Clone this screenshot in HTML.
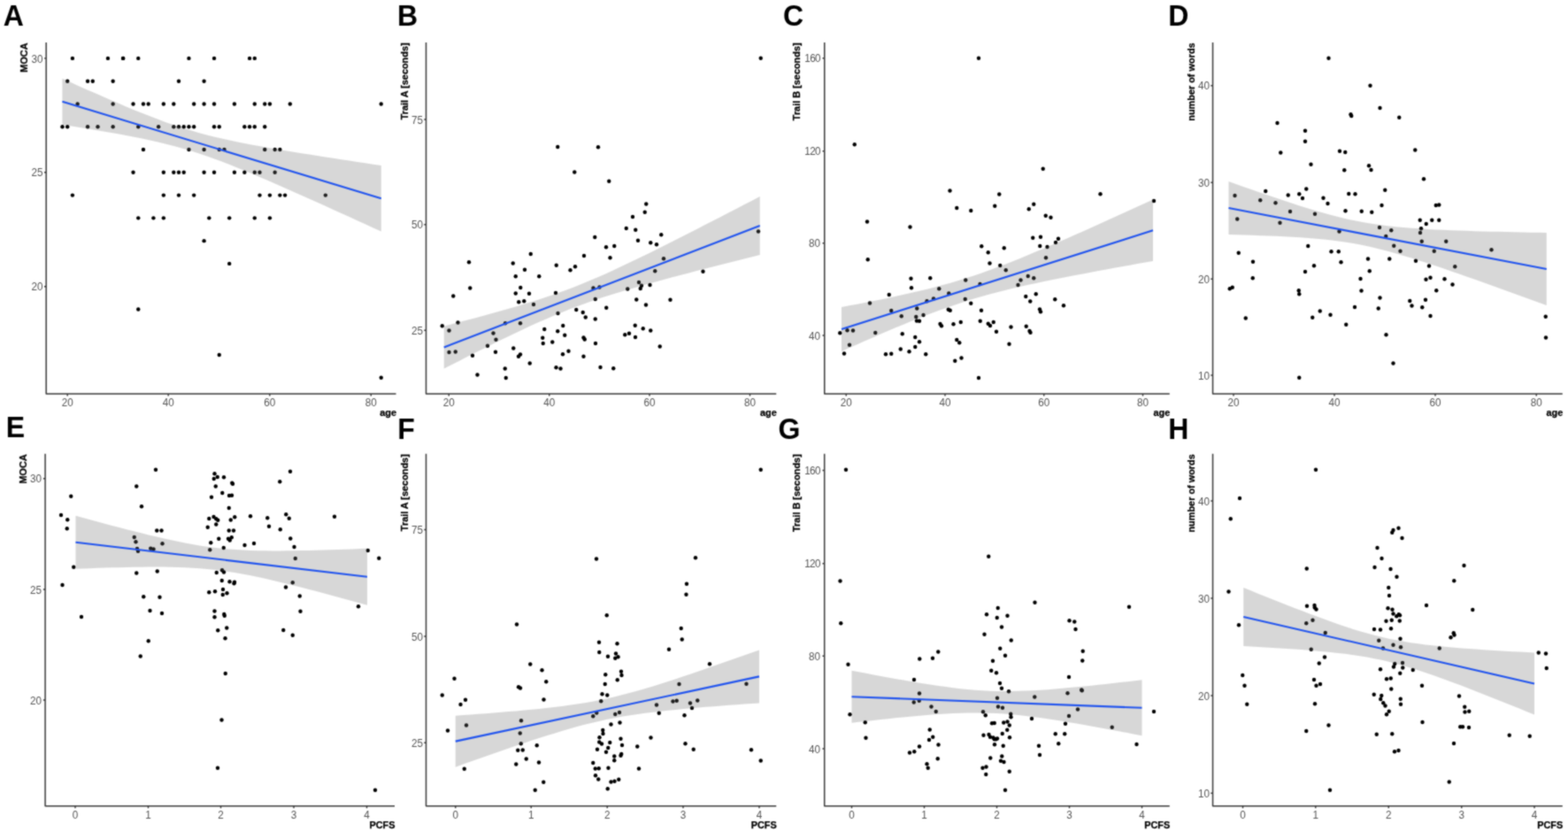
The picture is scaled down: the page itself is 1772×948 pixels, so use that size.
<!DOCTYPE html>
<html lang="en">
<head>
<meta charset="utf-8">
<title>Figure: cognitive tests vs age and PCFS</title>
<style>
html,body{margin:0;padding:0;background:#fff;}
body{width:1772px;height:948px;overflow:hidden;font-family:"Liberation Sans",Arial,Helvetica,sans-serif;}
svg{display:block;}
.pts circle{fill:#000;}
.band{fill:#6e6e6e;fill-opacity:0.275;stroke:none;}
.fit{stroke:#2053ee;stroke-width:2.1;fill:none;}
.axis{stroke:#3a3a3a;stroke-width:1.5;fill:none;stroke-linecap:square;stroke-linejoin:round;}
.tick{stroke:#3a3a3a;stroke-width:1.4;fill:none;}
.tl{font-size:11.7px;fill:#555555;}
.at{font-size:10.9px;font-weight:bold;fill:#000;stroke:#000;stroke-width:0.25px;}
.pl{font-size:32px;font-weight:bold;fill:#000;}
</style>
</head>
<body>
<svg width="1772" height="948" viewBox="0 0 1772 948" font-family="'Liberation Sans',Arial,Helvetica,sans-serif">
<defs><filter id="soft" x="0" y="0" width="1772" height="948" filterUnits="userSpaceOnUse" color-interpolation-filters="sRGB"><feConvolveMatrix order="3" kernelMatrix="0.0500 0.1000 0.0500 0.1000 0.4000 0.1000 0.0500 0.1000 0.0500" divisor="1" edgeMode="duplicate" preserveAlpha="true"/></filter></defs>
<rect width="1772" height="948" fill="#fff"/>
<g filter="url(#soft)">
<rect width="1772" height="948" fill="#fff"/>
<g class="panel" id="panel-A">
<g class="pts">
<circle cx="81.92" cy="65.9" r="2.2"/>
<circle cx="121.95" cy="65.9" r="2.2"/>
<circle cx="139.1" cy="65.9" r="2.2"/>
<circle cx="139.1" cy="65.9" r="2.2"/>
<circle cx="156.26" cy="65.9" r="2.2"/>
<circle cx="213.44" cy="65.9" r="2.2"/>
<circle cx="242.03" cy="65.9" r="2.2"/>
<circle cx="282.06" cy="65.9" r="2.2"/>
<circle cx="287.78" cy="65.9" r="2.2"/>
<circle cx="76.2" cy="91.68" r="2.2"/>
<circle cx="99.07" cy="91.68" r="2.2"/>
<circle cx="104.79" cy="91.68" r="2.2"/>
<circle cx="127.67" cy="91.68" r="2.2"/>
<circle cx="202" cy="91.68" r="2.2"/>
<circle cx="230.6" cy="91.68" r="2.2"/>
<circle cx="87.64" cy="117.46" r="2.2"/>
<circle cx="127.67" cy="117.46" r="2.2"/>
<circle cx="150.54" cy="117.46" r="2.2"/>
<circle cx="161.98" cy="117.46" r="2.2"/>
<circle cx="167.69" cy="117.46" r="2.2"/>
<circle cx="184.85" cy="117.46" r="2.2"/>
<circle cx="196.29" cy="117.46" r="2.2"/>
<circle cx="219.16" cy="117.46" r="2.2"/>
<circle cx="230.6" cy="117.46" r="2.2"/>
<circle cx="242.03" cy="117.46" r="2.2"/>
<circle cx="264.91" cy="117.46" r="2.2"/>
<circle cx="287.78" cy="117.46" r="2.2"/>
<circle cx="299.22" cy="117.46" r="2.2"/>
<circle cx="304.93" cy="117.46" r="2.2"/>
<circle cx="327.81" cy="117.46" r="2.2"/>
<circle cx="430.74" cy="117.46" r="2.2"/>
<circle cx="70.48" cy="143.24" r="2.2"/>
<circle cx="76.2" cy="143.24" r="2.2"/>
<circle cx="99.07" cy="143.24" r="2.2"/>
<circle cx="110.51" cy="143.24" r="2.2"/>
<circle cx="127.67" cy="143.24" r="2.2"/>
<circle cx="156.26" cy="143.24" r="2.2"/>
<circle cx="179.13" cy="143.24" r="2.2"/>
<circle cx="196.29" cy="143.24" r="2.2"/>
<circle cx="202" cy="143.24" r="2.2"/>
<circle cx="207.72" cy="143.24" r="2.2"/>
<circle cx="213.44" cy="143.24" r="2.2"/>
<circle cx="219.16" cy="143.24" r="2.2"/>
<circle cx="242.03" cy="143.24" r="2.2"/>
<circle cx="247.75" cy="143.24" r="2.2"/>
<circle cx="276.34" cy="143.24" r="2.2"/>
<circle cx="282.06" cy="143.24" r="2.2"/>
<circle cx="287.78" cy="143.24" r="2.2"/>
<circle cx="299.22" cy="143.24" r="2.2"/>
<circle cx="161.98" cy="169.02" r="2.2"/>
<circle cx="213.44" cy="169.02" r="2.2"/>
<circle cx="230.6" cy="169.02" r="2.2"/>
<circle cx="247.75" cy="169.02" r="2.2"/>
<circle cx="253.47" cy="169.02" r="2.2"/>
<circle cx="299.22" cy="169.02" r="2.2"/>
<circle cx="310.65" cy="169.02" r="2.2"/>
<circle cx="316.37" cy="169.02" r="2.2"/>
<circle cx="150.54" cy="194.8" r="2.2"/>
<circle cx="184.85" cy="194.8" r="2.2"/>
<circle cx="196.29" cy="194.8" r="2.2"/>
<circle cx="202" cy="194.8" r="2.2"/>
<circle cx="207.72" cy="194.8" r="2.2"/>
<circle cx="230.6" cy="194.8" r="2.2"/>
<circle cx="242.03" cy="194.8" r="2.2"/>
<circle cx="264.91" cy="194.8" r="2.2"/>
<circle cx="276.34" cy="194.8" r="2.2"/>
<circle cx="287.78" cy="194.8" r="2.2"/>
<circle cx="293.5" cy="194.8" r="2.2"/>
<circle cx="310.65" cy="194.8" r="2.2"/>
<circle cx="81.92" cy="220.58" r="2.2"/>
<circle cx="184.85" cy="220.58" r="2.2"/>
<circle cx="202" cy="220.58" r="2.2"/>
<circle cx="219.16" cy="220.58" r="2.2"/>
<circle cx="293.5" cy="220.58" r="2.2"/>
<circle cx="304.93" cy="220.58" r="2.2"/>
<circle cx="316.37" cy="220.58" r="2.2"/>
<circle cx="322.09" cy="220.58" r="2.2"/>
<circle cx="367.84" cy="220.58" r="2.2"/>
<circle cx="156.26" cy="246.36" r="2.2"/>
<circle cx="173.41" cy="246.36" r="2.2"/>
<circle cx="184.85" cy="246.36" r="2.2"/>
<circle cx="236.31" cy="246.36" r="2.2"/>
<circle cx="259.19" cy="246.36" r="2.2"/>
<circle cx="287.78" cy="246.36" r="2.2"/>
<circle cx="304.93" cy="246.36" r="2.2"/>
<circle cx="230.6" cy="272.14" r="2.2"/>
<circle cx="259.19" cy="297.92" r="2.2"/>
<circle cx="156.26" cy="349.48" r="2.2"/>
<circle cx="247.75" cy="401.04" r="2.2"/>
<circle cx="430.74" cy="426.82" r="2.2"/>
</g>
<path class="band" d="M70.4 88.8 L79.41 92.85 L88.42 96.88 L97.43 100.88 L106.44 104.86 L115.45 108.81 L124.46 112.72 L133.47 116.58 L142.48 120.4 L151.49 124.14 L160.5 127.8 L169.51 131.37 L178.52 134.82 L187.53 138.14 L196.54 141.3 L205.55 144.29 L214.56 147.1 L223.57 149.72 L232.58 152.15 L241.59 154.42 L250.6 156.54 L259.61 158.53 L268.62 160.41 L277.63 162.2 L286.64 163.91 L295.65 165.55 L304.66 167.15 L313.67 168.7 L322.68 170.22 L331.69 171.71 L340.7 173.17 L349.71 174.61 L358.72 176.04 L367.73 177.44 L376.74 178.84 L385.75 180.22 L394.76 181.59 L403.77 182.95 L412.78 184.31 L421.79 185.66 L430.8 187 L430.8 261.6 L421.79 257.47 L412.78 253.34 L403.77 249.22 L394.76 245.11 L385.75 241 L376.74 236.91 L367.73 232.83 L358.72 228.76 L349.71 224.71 L340.7 220.68 L331.69 216.66 L322.68 212.68 L313.67 208.72 L304.66 204.8 L295.65 200.92 L286.64 197.09 L277.63 193.33 L268.62 189.64 L259.61 186.05 L250.6 182.56 L241.59 179.2 L232.58 176 L223.57 172.96 L214.56 170.1 L205.55 167.43 L196.54 164.95 L187.53 162.63 L178.52 160.48 L169.51 158.45 L160.5 156.55 L151.49 154.74 L142.48 153 L133.47 151.34 L124.46 149.73 L115.45 148.17 L106.44 146.64 L97.43 145.14 L88.42 143.67 L79.41 142.23 L70.4 140.8Z"/>
<line class="fit" x1="70.4" y1="114.8" x2="430.8" y2="224.3"/>
<path class="axis" d="M52.2 48.65 V444.9 H446.75"/>
<path class="tick" d="M50 65.9h2.2M50 194.7h2.2M50 323.7h2.2M76.2 444.9v2.5M190.2 444.9v2.5M304.8 444.9v2.5M419.3 444.9v2.5"/>
<text class="tl" text-anchor="end" transform="translate(48.6 70.6) scale(1 1.04)">30</text>
<text class="tl" text-anchor="end" transform="translate(48.6 199.4) scale(1 1.04)">25</text>
<text class="tl" text-anchor="end" transform="translate(48.6 328.4) scale(1 1.04)">20</text>
<text class="tl" text-anchor="middle" transform="translate(76.2 459) scale(1 1.04)">20</text>
<text class="tl" text-anchor="middle" transform="translate(190.2 459) scale(1 1.04)">40</text>
<text class="tl" text-anchor="middle" transform="translate(304.8 459) scale(1 1.04)">60</text>
<text class="tl" text-anchor="middle" transform="translate(419.3 459) scale(1 1.04)">80</text>
<text class="at" text-anchor="end" transform="translate(448 470.2) scale(1 1)">age</text>
<text class="at" text-anchor="end" transform="translate(31.4 48.4) rotate(-90) scale(1 1)">MOCA</text>
<text class="pl" transform="translate(3.7 29) scale(1 1.04)">A</text>
</g>
<g class="panel" id="panel-B">
<g class="pts">
<circle cx="630.25" cy="166" r="2.2"/>
<circle cx="649.25" cy="194.5" r="2.2"/>
<circle cx="676" cy="166.25" r="2.2"/>
<circle cx="688.25" cy="204.75" r="2.2"/>
<circle cx="730.25" cy="230.5" r="2.2"/>
<circle cx="859.75" cy="65.75" r="2.2"/>
<circle cx="499.75" cy="368.25" r="2.2"/>
<circle cx="507.5" cy="373.5" r="2.2"/>
<circle cx="507.5" cy="398" r="2.2"/>
<circle cx="512.25" cy="334.5" r="2.2"/>
<circle cx="514.75" cy="397.5" r="2.2"/>
<circle cx="517.5" cy="364.5" r="2.2"/>
<circle cx="530" cy="296.25" r="2.2"/>
<circle cx="531.25" cy="325.5" r="2.2"/>
<circle cx="534" cy="401.75" r="2.2"/>
<circle cx="539.5" cy="423.5" r="2.2"/>
<circle cx="551" cy="390.75" r="2.2"/>
<circle cx="557.5" cy="376.5" r="2.2"/>
<circle cx="560" cy="397.75" r="2.2"/>
<circle cx="560.5" cy="383.75" r="2.2"/>
<circle cx="570.75" cy="416.5" r="2.2"/>
<circle cx="571" cy="365.25" r="2.2"/>
<circle cx="571.75" cy="427" r="2.2"/>
<circle cx="579.75" cy="297.5" r="2.2"/>
<circle cx="580.25" cy="393.5" r="2.2"/>
<circle cx="582.75" cy="312.25" r="2.2"/>
<circle cx="582.75" cy="331.5" r="2.2"/>
<circle cx="586" cy="402.75" r="2.2"/>
<circle cx="586.25" cy="341.25" r="2.2"/>
<circle cx="588" cy="400.5" r="2.2"/>
<circle cx="588.25" cy="325" r="2.2"/>
<circle cx="588" cy="365.25" r="2.2"/>
<circle cx="592.25" cy="340.25" r="2.2"/>
<circle cx="593" cy="304.75" r="2.2"/>
<circle cx="598" cy="331.75" r="2.2"/>
<circle cx="598.75" cy="410.5" r="2.2"/>
<circle cx="599.75" cy="287" r="2.2"/>
<circle cx="603" cy="344" r="2.2"/>
<circle cx="609.25" cy="312.25" r="2.2"/>
<circle cx="613.25" cy="381.75" r="2.2"/>
<circle cx="613.75" cy="388" r="2.2"/>
<circle cx="615.25" cy="372" r="2.2"/>
<circle cx="624.25" cy="386.5" r="2.2"/>
<circle cx="628" cy="331" r="2.2"/>
<circle cx="628.5" cy="415.25" r="2.2"/>
<circle cx="628.75" cy="299.75" r="2.2"/>
<circle cx="630.25" cy="374.25" r="2.2"/>
<circle cx="630.5" cy="354" r="2.2"/>
<circle cx="633.5" cy="416.5" r="2.2"/>
<circle cx="636" cy="400.25" r="2.2"/>
<circle cx="636.25" cy="368" r="2.2"/>
<circle cx="638.25" cy="378.75" r="2.2"/>
<circle cx="642.5" cy="396.75" r="2.2"/>
<circle cx="644.5" cy="305.25" r="2.2"/>
<circle cx="650" cy="301.25" r="2.2"/>
<circle cx="651.25" cy="350" r="2.2"/>
<circle cx="658.75" cy="353" r="2.2"/>
<circle cx="659.5" cy="402.75" r="2.2"/>
<circle cx="659.5" cy="381.5" r="2.2"/>
<circle cx="660" cy="289" r="2.2"/>
<circle cx="660.75" cy="383.5" r="2.2"/>
<circle cx="661.75" cy="358.5" r="2.2"/>
<circle cx="670.5" cy="325.5" r="2.2"/>
<circle cx="672.25" cy="268" r="2.2"/>
<circle cx="672.75" cy="338" r="2.2"/>
<circle cx="672.75" cy="360.5" r="2.2"/>
<circle cx="673" cy="388" r="2.2"/>
<circle cx="677.5" cy="324.5" r="2.2"/>
<circle cx="678.5" cy="415" r="2.2"/>
<circle cx="685" cy="279.25" r="2.2"/>
<circle cx="685.25" cy="347.75" r="2.2"/>
<circle cx="689.5" cy="291.25" r="2.2"/>
<circle cx="693.25" cy="416.25" r="2.2"/>
<circle cx="694.25" cy="278" r="2.2"/>
<circle cx="706.25" cy="378.25" r="2.2"/>
<circle cx="707.75" cy="258" r="2.2"/>
<circle cx="709.25" cy="326.5" r="2.2"/>
<circle cx="711" cy="376.75" r="2.2"/>
<circle cx="715" cy="245" r="2.2"/>
<circle cx="717.75" cy="367.75" r="2.2"/>
<circle cx="718" cy="381" r="2.2"/>
<circle cx="718.25" cy="259.75" r="2.2"/>
<circle cx="719.25" cy="338.5" r="2.2"/>
<circle cx="721" cy="271.75" r="2.2"/>
<circle cx="722" cy="319" r="2.2"/>
<circle cx="723.75" cy="326" r="2.2"/>
<circle cx="725" cy="322.75" r="2.2"/>
<circle cx="726.75" cy="371.25" r="2.2"/>
<circle cx="728.75" cy="239.75" r="2.2"/>
<circle cx="730" cy="344.5" r="2.2"/>
<circle cx="734.5" cy="322" r="2.2"/>
<circle cx="735.25" cy="274.25" r="2.2"/>
<circle cx="735.25" cy="373.5" r="2.2"/>
<circle cx="740.25" cy="306.25" r="2.2"/>
<circle cx="742" cy="276.25" r="2.2"/>
<circle cx="745.75" cy="391.5" r="2.2"/>
<circle cx="747.25" cy="265.25" r="2.2"/>
<circle cx="750" cy="292.25" r="2.2"/>
<circle cx="757.5" cy="338.75" r="2.2"/>
<circle cx="794.5" cy="306.75" r="2.2"/>
<circle cx="857" cy="261.5" r="2.2"/>
</g>
<path class="band" d="M501.75 368.5 L510.68 366.19 L519.6 363.86 L528.52 361.51 L537.45 359.13 L546.38 356.73 L555.3 354.28 L564.23 351.8 L573.15 349.27 L582.08 346.67 L591 344.01 L599.92 341.27 L608.85 338.44 L617.77 335.5 L626.7 332.43 L635.62 329.23 L644.55 325.9 L653.48 322.42 L662.4 318.79 L671.33 315.03 L680.25 311.14 L689.17 307.14 L698.1 303.04 L707.02 298.86 L715.95 294.6 L724.88 290.28 L733.8 285.9 L742.73 281.49 L751.65 277.03 L760.58 272.54 L769.5 268.03 L778.42 263.49 L787.35 258.93 L796.27 254.36 L805.2 249.77 L814.12 245.17 L823.05 240.55 L831.98 235.93 L840.9 231.29 L849.83 226.65 L858.75 222 L858.75 288 L849.83 290.23 L840.9 292.46 L831.98 294.7 L823.05 296.95 L814.12 299.21 L805.2 301.48 L796.27 303.77 L787.35 306.07 L778.42 308.38 L769.5 310.72 L760.58 313.08 L751.65 315.47 L742.73 317.89 L733.8 320.35 L724.88 322.85 L715.95 325.4 L707.02 328.02 L698.1 330.71 L689.17 333.48 L680.25 336.36 L671.33 339.35 L662.4 342.46 L653.48 345.71 L644.55 349.1 L635.62 352.64 L626.7 356.32 L617.77 360.13 L608.85 364.06 L599.92 368.1 L591 372.24 L582.08 376.45 L573.15 380.73 L564.23 385.08 L555.3 389.47 L546.38 393.9 L537.45 398.37 L528.52 402.87 L519.6 407.39 L510.68 411.94 L501.75 416.5Z"/>
<line class="fit" x1="501.75" y1="392.5" x2="858.75" y2="255"/>
<path class="axis" d="M481.5 48.65 V444.9 H876.5"/>
<path class="tick" d="M479.3 135h2.2M479.3 253.75h2.2M479.3 373.25h2.2M507.25 444.9v2.5M620.75 444.9v2.5M734 444.9v2.5M847.5 444.9v2.5"/>
<text class="tl" text-anchor="end" transform="translate(477.9 139.7) scale(1 1.04)">75</text>
<text class="tl" text-anchor="end" transform="translate(477.9 258.45) scale(1 1.04)">50</text>
<text class="tl" text-anchor="end" transform="translate(477.9 377.95) scale(1 1.04)">25</text>
<text class="tl" text-anchor="middle" transform="translate(507.25 459) scale(1 1.04)">20</text>
<text class="tl" text-anchor="middle" transform="translate(620.75 459) scale(1 1.04)">40</text>
<text class="tl" text-anchor="middle" transform="translate(734 459) scale(1 1.04)">60</text>
<text class="tl" text-anchor="middle" transform="translate(847.5 459) scale(1 1.04)">80</text>
<text class="at" text-anchor="end" transform="translate(877.75 470.2) scale(1 1)">age</text>
<text class="at" text-anchor="end" transform="translate(460.8 48.4) rotate(-90) scale(1 1)">Trail A [seconds]</text>
<text class="pl" transform="translate(449.05 28.5) scale(1 1.04)">B</text>
</g>
<g class="panel" id="panel-C">
<g class="pts">
<circle cx="965.75" cy="163.25" r="2.2"/>
<circle cx="1106" cy="65.75" r="2.2"/>
<circle cx="1073.5" cy="215.5" r="2.2"/>
<circle cx="1081.25" cy="235" r="2.2"/>
<circle cx="1097.25" cy="238" r="2.2"/>
<circle cx="1124.25" cy="232.75" r="2.2"/>
<circle cx="1129.25" cy="219.5" r="2.2"/>
<circle cx="1162.75" cy="236.25" r="2.2"/>
<circle cx="1168.25" cy="230.75" r="2.2"/>
<circle cx="1178.75" cy="190.75" r="2.2"/>
<circle cx="1243.5" cy="219.25" r="2.2"/>
<circle cx="1304" cy="227" r="2.2"/>
<circle cx="949.25" cy="376.25" r="2.2"/>
<circle cx="954" cy="399.5" r="2.2"/>
<circle cx="957.5" cy="373.25" r="2.2"/>
<circle cx="960" cy="389.75" r="2.2"/>
<circle cx="964" cy="373.5" r="2.2"/>
<circle cx="980" cy="250.5" r="2.2"/>
<circle cx="980.75" cy="293.25" r="2.2"/>
<circle cx="983" cy="342.5" r="2.2"/>
<circle cx="989.25" cy="376" r="2.2"/>
<circle cx="1001" cy="400.25" r="2.2"/>
<circle cx="1004.75" cy="333" r="2.2"/>
<circle cx="1007.25" cy="399.75" r="2.2"/>
<circle cx="1007.25" cy="351" r="2.2"/>
<circle cx="1017.75" cy="394.5" r="2.2"/>
<circle cx="1018.75" cy="357.25" r="2.2"/>
<circle cx="1019.75" cy="377.25" r="2.2"/>
<circle cx="1027.5" cy="397.25" r="2.2"/>
<circle cx="1028.5" cy="256.5" r="2.2"/>
<circle cx="1029.5" cy="314.75" r="2.2"/>
<circle cx="1030" cy="325.25" r="2.2"/>
<circle cx="1034.25" cy="381" r="2.2"/>
<circle cx="1034.25" cy="392" r="2.2"/>
<circle cx="1035.25" cy="358" r="2.2"/>
<circle cx="1036" cy="362.5" r="2.2"/>
<circle cx="1036.25" cy="348.5" r="2.2"/>
<circle cx="1039" cy="362.75" r="2.2"/>
<circle cx="1039" cy="386.25" r="2.2"/>
<circle cx="1043.5" cy="356" r="2.2"/>
<circle cx="1046.25" cy="400.25" r="2.2"/>
<circle cx="1047.5" cy="340.25" r="2.2"/>
<circle cx="1051.25" cy="314.25" r="2.2"/>
<circle cx="1055" cy="337.5" r="2.2"/>
<circle cx="1061.25" cy="326.25" r="2.2"/>
<circle cx="1062.5" cy="366" r="2.2"/>
<circle cx="1064" cy="368.25" r="2.2"/>
<circle cx="1071.75" cy="349.75" r="2.2"/>
<circle cx="1072.25" cy="331.5" r="2.2"/>
<circle cx="1073.75" cy="350.75" r="2.2"/>
<circle cx="1077.5" cy="366.25" r="2.2"/>
<circle cx="1079.25" cy="407.75" r="2.2"/>
<circle cx="1081.25" cy="384" r="2.2"/>
<circle cx="1084.25" cy="387.25" r="2.2"/>
<circle cx="1085.75" cy="364" r="2.2"/>
<circle cx="1086.5" cy="404.5" r="2.2"/>
<circle cx="1090.75" cy="338" r="2.2"/>
<circle cx="1091.25" cy="316.5" r="2.2"/>
<circle cx="1097.25" cy="342.75" r="2.2"/>
<circle cx="1106" cy="427" r="2.2"/>
<circle cx="1107.5" cy="321" r="2.2"/>
<circle cx="1107.75" cy="362.75" r="2.2"/>
<circle cx="1109" cy="350.75" r="2.2"/>
<circle cx="1109.25" cy="278.25" r="2.2"/>
<circle cx="1116.75" cy="285.25" r="2.2"/>
<circle cx="1116.75" cy="365.75" r="2.2"/>
<circle cx="1118.5" cy="297.5" r="2.2"/>
<circle cx="1119" cy="368" r="2.2"/>
<circle cx="1122.75" cy="364" r="2.2"/>
<circle cx="1126" cy="374.75" r="2.2"/>
<circle cx="1130.25" cy="300" r="2.2"/>
<circle cx="1134.75" cy="280.25" r="2.2"/>
<circle cx="1136.75" cy="305.25" r="2.2"/>
<circle cx="1140.5" cy="388.75" r="2.2"/>
<circle cx="1142.5" cy="369.5" r="2.2"/>
<circle cx="1150.5" cy="322" r="2.2"/>
<circle cx="1153.5" cy="316.5" r="2.2"/>
<circle cx="1159.25" cy="335" r="2.2"/>
<circle cx="1159.75" cy="368.75" r="2.2"/>
<circle cx="1161.75" cy="312" r="2.2"/>
<circle cx="1163.5" cy="374" r="2.2"/>
<circle cx="1164.25" cy="340.5" r="2.2"/>
<circle cx="1164.5" cy="375.75" r="2.2"/>
<circle cx="1167.25" cy="268.75" r="2.2"/>
<circle cx="1168.25" cy="314.25" r="2.2"/>
<circle cx="1170.75" cy="332.25" r="2.2"/>
<circle cx="1175" cy="349.5" r="2.2"/>
<circle cx="1175.25" cy="278" r="2.2"/>
<circle cx="1176" cy="352.25" r="2.2"/>
<circle cx="1176" cy="267.75" r="2.2"/>
<circle cx="1181.75" cy="243.75" r="2.2"/>
<circle cx="1182" cy="291.25" r="2.2"/>
<circle cx="1183.5" cy="279" r="2.2"/>
<circle cx="1187.5" cy="245.75" r="2.2"/>
<circle cx="1192.25" cy="338.25" r="2.2"/>
<circle cx="1193" cy="274" r="2.2"/>
<circle cx="1196" cy="269.75" r="2.2"/>
<circle cx="1202" cy="345.25" r="2.2"/>
</g>
<path class="band" d="M951 347 L959.8 345.34 L968.6 343.66 L977.4 341.95 L986.2 340.21 L995 338.44 L1003.8 336.63 L1012.6 334.77 L1021.4 332.85 L1030.2 330.87 L1039 328.82 L1047.8 326.68 L1056.6 324.44 L1065.4 322.1 L1074.2 319.63 L1083 317.03 L1091.8 314.3 L1100.6 311.43 L1109.4 308.42 L1118.2 305.29 L1127 302.03 L1135.8 298.67 L1144.6 295.21 L1153.4 291.67 L1162.2 288.05 L1171 284.37 L1179.8 280.64 L1188.6 276.86 L1197.4 273.04 L1206.2 269.19 L1215 265.3 L1223.8 261.4 L1232.6 257.47 L1241.4 253.52 L1250.2 249.55 L1259 245.57 L1267.8 241.58 L1276.6 237.57 L1285.4 233.56 L1294.2 229.53 L1303 225.5 L1303 295 L1294.2 296.56 L1285.4 298.12 L1276.6 299.69 L1267.8 301.27 L1259 302.87 L1250.2 304.47 L1241.4 306.1 L1232.6 307.73 L1223.8 309.39 L1215 311.07 L1206.2 312.78 L1197.4 314.51 L1188.6 316.28 L1179.8 318.09 L1171 319.94 L1162.2 321.85 L1153.4 323.82 L1144.6 325.86 L1135.8 327.99 L1127 330.22 L1118.2 332.55 L1109.4 335 L1100.6 337.58 L1091.8 340.3 L1083 343.15 L1074.2 346.15 L1065.4 349.27 L1056.6 352.51 L1047.8 355.86 L1039 359.31 L1030.2 362.84 L1021.4 366.45 L1012.6 370.12 L1003.8 373.85 L995 377.62 L986.2 381.44 L977.4 385.29 L968.6 389.17 L959.8 393.07 L951 397Z"/>
<line class="fit" x1="951" y1="372" x2="1303" y2="260.25"/>
<path class="axis" d="M931.75 48.65 V444.9 H1321"/>
<path class="tick" d="M929.55 65.75h2.2M929.55 170.75h2.2M929.55 274.75h2.2M929.55 379h2.2M956.25 444.9v2.5M1068 444.9v2.5M1179.75 444.9v2.5M1291.5 444.9v2.5"/>
<text class="tl" text-anchor="end" letter-spacing="-0.6" transform="translate(926.95 70.45) scale(1 1.04)">160</text>
<text class="tl" text-anchor="end" letter-spacing="-0.6" transform="translate(926.95 175.45) scale(1 1.04)">120</text>
<text class="tl" text-anchor="end" transform="translate(926.95 279.45) scale(1 1.04)">80</text>
<text class="tl" text-anchor="end" transform="translate(926.95 383.7) scale(1 1.04)">40</text>
<text class="tl" text-anchor="middle" transform="translate(956.25 459) scale(1 1.04)">20</text>
<text class="tl" text-anchor="middle" transform="translate(1068 459) scale(1 1.04)">40</text>
<text class="tl" text-anchor="middle" transform="translate(1179.75 459) scale(1 1.04)">60</text>
<text class="tl" text-anchor="middle" transform="translate(1291.5 459) scale(1 1.04)">80</text>
<text class="at" text-anchor="end" transform="translate(1322.25 470.2) scale(1 1)">age</text>
<text class="at" text-anchor="end" transform="translate(903.9 48.4) rotate(-90) scale(1 1)">Trail B [seconds]</text>
<text class="pl" transform="translate(885.05 29) scale(1 1.04)">C</text>
</g>
<g class="panel" id="panel-D">
<g class="pts">
<circle cx="1395.5" cy="221" r="2.2"/>
<circle cx="1424.25" cy="226.25" r="2.2"/>
<circle cx="1430.25" cy="216" r="2.2"/>
<circle cx="1441.5" cy="229.25" r="2.2"/>
<circle cx="1443.5" cy="139" r="2.2"/>
<circle cx="1447.25" cy="172.5" r="2.2"/>
<circle cx="1455.75" cy="220.5" r="2.2"/>
<circle cx="1458" cy="239" r="2.2"/>
<circle cx="1468.25" cy="219.25" r="2.2"/>
<circle cx="1472" cy="224" r="2.2"/>
<circle cx="1475" cy="147.75" r="2.2"/>
<circle cx="1475" cy="159.75" r="2.2"/>
<circle cx="1476.25" cy="213.5" r="2.2"/>
<circle cx="1481.5" cy="185.75" r="2.2"/>
<circle cx="1495.5" cy="223.75" r="2.2"/>
<circle cx="1500.5" cy="230" r="2.2"/>
<circle cx="1501.5" cy="65.75" r="2.2"/>
<circle cx="1514" cy="170.75" r="2.2"/>
<circle cx="1519.25" cy="192.25" r="2.2"/>
<circle cx="1520.25" cy="172" r="2.2"/>
<circle cx="1524.25" cy="219" r="2.2"/>
<circle cx="1526.5" cy="129.25" r="2.2"/>
<circle cx="1527.25" cy="131" r="2.2"/>
<circle cx="1531.5" cy="219.25" r="2.2"/>
<circle cx="1547" cy="187.25" r="2.2"/>
<circle cx="1548.5" cy="96.75" r="2.2"/>
<circle cx="1549.5" cy="192" r="2.2"/>
<circle cx="1559.5" cy="122" r="2.2"/>
<circle cx="1561.5" cy="232" r="2.2"/>
<circle cx="1565.25" cy="214.75" r="2.2"/>
<circle cx="1581.25" cy="132.75" r="2.2"/>
<circle cx="1599.25" cy="169.5" r="2.2"/>
<circle cx="1609" cy="202.25" r="2.2"/>
<circle cx="1622.75" cy="232" r="2.2"/>
<circle cx="1626.25" cy="231.5" r="2.2"/>
<circle cx="1389.75" cy="326.25" r="2.2"/>
<circle cx="1392.75" cy="324.75" r="2.2"/>
<circle cx="1398.25" cy="247.5" r="2.2"/>
<circle cx="1399.75" cy="285.75" r="2.2"/>
<circle cx="1407.75" cy="359.5" r="2.2"/>
<circle cx="1416" cy="295.75" r="2.2"/>
<circle cx="1415.75" cy="314.25" r="2.2"/>
<circle cx="1446.5" cy="251.75" r="2.2"/>
<circle cx="1467.75" cy="328.25" r="2.2"/>
<circle cx="1468.25" cy="332.25" r="2.2"/>
<circle cx="1468.25" cy="426.75" r="2.2"/>
<circle cx="1475" cy="307" r="2.2"/>
<circle cx="1478.25" cy="278" r="2.2"/>
<circle cx="1483.25" cy="358.75" r="2.2"/>
<circle cx="1485" cy="300.25" r="2.2"/>
<circle cx="1486" cy="241.75" r="2.2"/>
<circle cx="1491.75" cy="351.5" r="2.2"/>
<circle cx="1503.5" cy="355.75" r="2.2"/>
<circle cx="1504.5" cy="284.25" r="2.2"/>
<circle cx="1512.75" cy="284.25" r="2.2"/>
<circle cx="1513.5" cy="261.5" r="2.2"/>
<circle cx="1515.5" cy="296.25" r="2.2"/>
<circle cx="1520.5" cy="238.25" r="2.2"/>
<circle cx="1521.25" cy="366.75" r="2.2"/>
<circle cx="1531" cy="347" r="2.2"/>
<circle cx="1537.5" cy="315" r="2.2"/>
<circle cx="1538.5" cy="328.5" r="2.2"/>
<circle cx="1538.75" cy="238.75" r="2.2"/>
<circle cx="1546" cy="292.5" r="2.2"/>
<circle cx="1547.75" cy="306.25" r="2.2"/>
<circle cx="1550.25" cy="239.75" r="2.2"/>
<circle cx="1557.75" cy="348.5" r="2.2"/>
<circle cx="1559" cy="257" r="2.2"/>
<circle cx="1559.5" cy="336.5" r="2.2"/>
<circle cx="1566.25" cy="267" r="2.2"/>
<circle cx="1566.5" cy="378.25" r="2.2"/>
<circle cx="1570.25" cy="292.5" r="2.2"/>
<circle cx="1572.25" cy="260.25" r="2.2"/>
<circle cx="1574.5" cy="410.5" r="2.2"/>
<circle cx="1575.25" cy="277.75" r="2.2"/>
<circle cx="1582.5" cy="283.75" r="2.2"/>
<circle cx="1593.25" cy="340" r="2.2"/>
<circle cx="1595.5" cy="345.5" r="2.2"/>
<circle cx="1600" cy="294.75" r="2.2"/>
<circle cx="1604.75" cy="248.75" r="2.2"/>
<circle cx="1605" cy="263" r="2.2"/>
<circle cx="1606" cy="258.25" r="2.2"/>
<circle cx="1606.75" cy="272.75" r="2.2"/>
<circle cx="1607.25" cy="347.25" r="2.2"/>
<circle cx="1611" cy="338.75" r="2.2"/>
<circle cx="1611.75" cy="253" r="2.2"/>
<circle cx="1611.5" cy="315.75" r="2.2"/>
<circle cx="1615" cy="300.5" r="2.2"/>
<circle cx="1616.5" cy="313.75" r="2.2"/>
<circle cx="1616.5" cy="357" r="2.2"/>
<circle cx="1618.25" cy="248.75" r="2.2"/>
<circle cx="1620.75" cy="283.75" r="2.2"/>
<circle cx="1623.25" cy="328.25" r="2.2"/>
<circle cx="1626.25" cy="248.75" r="2.2"/>
<circle cx="1632.5" cy="315.25" r="2.2"/>
<circle cx="1634.25" cy="272.75" r="2.2"/>
<circle cx="1641.5" cy="321.5" r="2.2"/>
<circle cx="1644.25" cy="301.25" r="2.2"/>
<circle cx="1685.5" cy="282.25" r="2.2"/>
<circle cx="1746.75" cy="357.75" r="2.2"/>
<circle cx="1747" cy="381.5" r="2.2"/>
</g>
<path class="band" d="M1388.5 205 L1397.48 208.2 L1406.46 211.38 L1415.44 214.54 L1424.42 217.67 L1433.41 220.77 L1442.39 223.83 L1451.37 226.84 L1460.35 229.8 L1469.33 232.69 L1478.31 235.5 L1487.29 238.22 L1496.28 240.81 L1505.26 243.27 L1514.24 245.56 L1523.22 247.67 L1532.2 249.58 L1541.18 251.29 L1550.16 252.79 L1559.14 254.09 L1568.12 255.21 L1577.11 256.18 L1586.09 257.01 L1595.07 257.73 L1604.05 258.35 L1613.03 258.9 L1622.01 259.38 L1630.99 259.81 L1639.97 260.19 L1648.96 260.53 L1657.94 260.85 L1666.92 261.13 L1675.9 261.4 L1684.88 261.64 L1693.86 261.87 L1702.84 262.09 L1711.83 262.29 L1720.81 262.48 L1729.79 262.66 L1738.77 262.83 L1747.75 263 L1747.75 345 L1738.77 341.72 L1729.79 338.44 L1720.81 335.17 L1711.83 331.91 L1702.84 328.66 L1693.86 325.43 L1684.88 322.21 L1675.9 319 L1666.92 315.82 L1657.94 312.65 L1648.96 309.52 L1639.97 306.41 L1630.99 303.34 L1622.01 300.32 L1613.03 297.35 L1604.05 294.45 L1595.07 291.62 L1586.09 288.89 L1577.11 286.27 L1568.12 283.79 L1559.14 281.46 L1550.16 279.31 L1541.18 277.36 L1532.2 275.62 L1523.22 274.08 L1514.24 272.74 L1505.26 271.58 L1496.28 270.59 L1487.29 269.73 L1478.31 269 L1469.33 268.36 L1460.35 267.8 L1451.37 267.31 L1442.39 266.87 L1433.41 266.48 L1424.42 266.13 L1415.44 265.81 L1406.46 265.52 L1397.48 265.25 L1388.5 265Z"/>
<line class="fit" x1="1388.5" y1="235" x2="1747.75" y2="304"/>
<path class="axis" d="M1370.55 48.65 V444.9 H1765"/>
<path class="tick" d="M1368.35 96.75h2.2M1368.35 206.25h2.2M1368.35 315.25h2.2M1368.35 424h2.2M1394 444.9v2.5M1508 444.9v2.5M1622 444.9v2.5M1736.25 444.9v2.5"/>
<text class="tl" text-anchor="end" transform="translate(1366.95 101.45) scale(1 1.04)">40</text>
<text class="tl" text-anchor="end" transform="translate(1366.95 210.95) scale(1 1.04)">30</text>
<text class="tl" text-anchor="end" transform="translate(1366.95 319.95) scale(1 1.04)">20</text>
<text class="tl" text-anchor="end" transform="translate(1366.95 428.7) scale(1 1.04)">10</text>
<text class="tl" text-anchor="middle" transform="translate(1394 459) scale(1 1.04)">20</text>
<text class="tl" text-anchor="middle" transform="translate(1508 459) scale(1 1.04)">40</text>
<text class="tl" text-anchor="middle" transform="translate(1622 459) scale(1 1.04)">60</text>
<text class="tl" text-anchor="middle" transform="translate(1736.25 459) scale(1 1.04)">80</text>
<text class="at" text-anchor="end" transform="translate(1766.25 470.2) scale(1 1)">age</text>
<text class="at" text-anchor="end" transform="translate(1349.8 48.4) rotate(-90) scale(1 1)">number of words</text>
<text class="pl" transform="translate(1320.15 29) scale(1 1.04)">D</text>
</g>
<g class="panel" id="panel-E">
<g class="pts">
<circle cx="69" cy="582" r="2.2"/>
<circle cx="70.5" cy="661" r="2.2"/>
<circle cx="75.75" cy="597.25" r="2.2"/>
<circle cx="76.25" cy="587.25" r="2.2"/>
<circle cx="80.25" cy="560.75" r="2.2"/>
<circle cx="83.25" cy="640.75" r="2.2"/>
<circle cx="92" cy="697" r="2.2"/>
<circle cx="151.75" cy="607" r="2.2"/>
<circle cx="153.5" cy="612.25" r="2.2"/>
<circle cx="154.25" cy="549.5" r="2.2"/>
<circle cx="154.25" cy="647.5" r="2.2"/>
<circle cx="155" cy="620" r="2.2"/>
<circle cx="156" cy="622.75" r="2.2"/>
<circle cx="160" cy="572.25" r="2.2"/>
<circle cx="162.25" cy="674.25" r="2.2"/>
<circle cx="169.5" cy="690" r="2.2"/>
<circle cx="170.25" cy="619.75" r="2.2"/>
<circle cx="173.5" cy="620.5" r="2.2"/>
<circle cx="176" cy="530.75" r="2.2"/>
<circle cx="177.25" cy="599.5" r="2.2"/>
<circle cx="177.75" cy="645.5" r="2.2"/>
<circle cx="180.5" cy="674.75" r="2.2"/>
<circle cx="182.5" cy="599.5" r="2.2"/>
<circle cx="183" cy="693" r="2.2"/>
<circle cx="183.5" cy="614.25" r="2.2"/>
<circle cx="234.75" cy="595.75" r="2.2"/>
<circle cx="236.25" cy="586" r="2.2"/>
<circle cx="236.25" cy="669.25" r="2.2"/>
<circle cx="237.25" cy="621.25" r="2.2"/>
<circle cx="238.25" cy="613.25" r="2.2"/>
<circle cx="239" cy="561.75" r="2.2"/>
<circle cx="241.5" cy="584" r="2.2"/>
<circle cx="241.75" cy="541" r="2.2"/>
<circle cx="242.5" cy="535.25" r="2.2"/>
<circle cx="242.5" cy="690.5" r="2.2"/>
<circle cx="242.5" cy="697.25" r="2.2"/>
<circle cx="243" cy="668.25" r="2.2"/>
<circle cx="243.75" cy="549.5" r="2.2"/>
<circle cx="244.25" cy="592.5" r="2.2"/>
<circle cx="244.25" cy="586.25" r="2.2"/>
<circle cx="244.75" cy="647" r="2.2"/>
<circle cx="245.75" cy="539" r="2.2"/>
<circle cx="246.25" cy="587.75" r="2.2"/>
<circle cx="247.25" cy="608.75" r="2.2"/>
<circle cx="250.75" cy="656" r="2.2"/>
<circle cx="251" cy="644.25" r="2.2"/>
<circle cx="251.25" cy="557" r="2.2"/>
<circle cx="251.75" cy="672" r="2.2"/>
<circle cx="252" cy="666" r="2.2"/>
<circle cx="252.75" cy="619" r="2.2"/>
<circle cx="253" cy="539.25" r="2.2"/>
<circle cx="253" cy="646.5" r="2.2"/>
<circle cx="253.25" cy="694" r="2.2"/>
<circle cx="253.75" cy="695.75" r="2.2"/>
<circle cx="256.25" cy="709.5" r="2.2"/>
<circle cx="256.5" cy="670.25" r="2.2"/>
<circle cx="258" cy="608.75" r="2.2"/>
<circle cx="258.75" cy="574" r="2.2"/>
<circle cx="258.75" cy="599.5" r="2.2"/>
<circle cx="259" cy="560" r="2.2"/>
<circle cx="259.5" cy="657.25" r="2.2"/>
<circle cx="259.75" cy="610.5" r="2.2"/>
<circle cx="260.75" cy="587.5" r="2.2"/>
<circle cx="261.75" cy="607.25" r="2.2"/>
<circle cx="262" cy="559.75" r="2.2"/>
<circle cx="262.25" cy="545.75" r="2.2"/>
<circle cx="263" cy="546.75" r="2.2"/>
<circle cx="264" cy="599.5" r="2.2"/>
<circle cx="264.5" cy="659.25" r="2.2"/>
<circle cx="265" cy="657.75" r="2.2"/>
<circle cx="265.25" cy="584.25" r="2.2"/>
<circle cx="276.5" cy="616" r="2.2"/>
<circle cx="283" cy="583.25" r="2.2"/>
<circle cx="287" cy="614" r="2.2"/>
<circle cx="302.25" cy="585.25" r="2.2"/>
<circle cx="304" cy="594.75" r="2.2"/>
<circle cx="316.25" cy="544.25" r="2.2"/>
<circle cx="316.75" cy="598.25" r="2.2"/>
<circle cx="323" cy="663.5" r="2.2"/>
<circle cx="323.25" cy="581.25" r="2.2"/>
<circle cx="326.75" cy="585.75" r="2.2"/>
<circle cx="328" cy="532.75" r="2.2"/>
<circle cx="328.25" cy="608.5" r="2.2"/>
<circle cx="330.75" cy="658.25" r="2.2"/>
<circle cx="332.5" cy="618" r="2.2"/>
<circle cx="333.75" cy="631" r="2.2"/>
<circle cx="338.75" cy="673.5" r="2.2"/>
<circle cx="339.5" cy="690.75" r="2.2"/>
<circle cx="378" cy="583.75" r="2.2"/>
<circle cx="405" cy="685.25" r="2.2"/>
<circle cx="415.75" cy="622" r="2.2"/>
<circle cx="428.25" cy="630.75" r="2.2"/>
<circle cx="158.75" cy="741.5" r="2.2"/>
<circle cx="167.75" cy="724.25" r="2.2"/>
<circle cx="246.25" cy="712.25" r="2.2"/>
<circle cx="254.5" cy="721.25" r="2.2"/>
<circle cx="254.75" cy="761" r="2.2"/>
<circle cx="250.5" cy="813.5" r="2.2"/>
<circle cx="246" cy="867.75" r="2.2"/>
<circle cx="320.25" cy="712" r="2.2"/>
<circle cx="330.75" cy="717.75" r="2.2"/>
<circle cx="424" cy="892.75" r="2.2"/>
</g>
<path class="band" d="M85.5 582.75 L93.74 585.01 L101.97 587.25 L110.21 589.48 L118.45 591.69 L126.69 593.89 L134.93 596.06 L143.16 598.2 L151.4 600.3 L159.64 602.37 L167.88 604.4 L176.11 606.37 L184.35 608.28 L192.59 610.12 L200.82 611.87 L209.06 613.51 L217.3 615.04 L225.54 616.43 L233.78 617.68 L242.01 618.77 L250.25 619.7 L258.49 620.48 L266.73 621.1 L274.96 621.58 L283.2 621.94 L291.44 622.18 L299.68 622.34 L307.91 622.41 L316.15 622.42 L324.39 622.36 L332.62 622.26 L340.86 622.12 L349.1 621.94 L357.34 621.74 L365.57 621.51 L373.81 621.25 L382.05 620.98 L390.29 620.69 L398.52 620.39 L406.76 620.08 L415 619.75 L415 683.75 L406.76 681.47 L398.52 679.21 L390.29 676.96 L382.05 674.72 L373.81 672.5 L365.57 670.29 L357.34 668.11 L349.1 665.96 L340.86 663.83 L332.62 661.74 L324.39 659.69 L316.15 657.68 L307.91 655.74 L299.68 653.86 L291.44 652.07 L283.2 650.36 L274.96 648.77 L266.73 647.3 L258.49 645.97 L250.25 644.8 L242.01 643.78 L233.78 642.92 L225.54 642.22 L217.3 641.66 L209.06 641.24 L200.82 640.93 L192.59 640.73 L184.35 640.62 L176.11 640.58 L167.88 640.6 L159.64 640.68 L151.4 640.8 L143.16 640.95 L134.93 641.14 L126.69 641.36 L118.45 641.61 L110.21 641.87 L101.97 642.15 L93.74 642.44 L85.5 642.75Z"/>
<line class="fit" x1="85.5" y1="612.75" x2="415" y2="651.75"/>
<path class="axis" d="M51.1 513.45 V910.7 H445.25"/>
<path class="tick" d="M48.9 540.75h2.2M48.9 666h2.2M48.9 791h2.2M85 910.7v2.5M167.5 910.7v2.5M249.5 910.7v2.5M332 910.7v2.5M414.5 910.7v2.5"/>
<text class="tl" text-anchor="end" transform="translate(46.9 545.45) scale(1 1.04)">30</text>
<text class="tl" text-anchor="end" transform="translate(46.9 670.7) scale(1 1.04)">25</text>
<text class="tl" text-anchor="end" transform="translate(46.9 795.7) scale(1 1.04)">20</text>
<text class="tl" text-anchor="middle" transform="translate(85 924.8) scale(1 1.04)">0</text>
<text class="tl" text-anchor="middle" transform="translate(167.5 924.8) scale(1 1.04)">1</text>
<text class="tl" text-anchor="middle" transform="translate(249.5 924.8) scale(1 1.04)">2</text>
<text class="tl" text-anchor="middle" transform="translate(332 924.8) scale(1 1.04)">3</text>
<text class="tl" text-anchor="middle" transform="translate(414.5 924.8) scale(1 1.04)">4</text>
<text class="at" text-anchor="end" transform="translate(446.5 936) scale(1 1)">PCFS</text>
<text class="at" text-anchor="end" transform="translate(30.4 513.2) rotate(-90) scale(1 1)">MOCA</text>
<text class="pl" transform="translate(6.8 494.1) scale(1 1.04)">E</text>
</g>
<g class="panel" id="panel-F">
<g class="pts">
<circle cx="584" cy="705.5" r="2.2"/>
<circle cx="674" cy="631.5" r="2.2"/>
<circle cx="685.75" cy="695.25" r="2.2"/>
<circle cx="769.75" cy="710" r="2.2"/>
<circle cx="775.5" cy="671.75" r="2.2"/>
<circle cx="776" cy="659.75" r="2.2"/>
<circle cx="786" cy="630.25" r="2.2"/>
<circle cx="859.75" cy="530.75" r="2.2"/>
<circle cx="499.75" cy="785.5" r="2.2"/>
<circle cx="506" cy="825.5" r="2.2"/>
<circle cx="513.5" cy="766.75" r="2.2"/>
<circle cx="520.5" cy="796" r="2.2"/>
<circle cx="524.75" cy="868.75" r="2.2"/>
<circle cx="526" cy="790.75" r="2.2"/>
<circle cx="527" cy="819.5" r="2.2"/>
<circle cx="583.25" cy="863.5" r="2.2"/>
<circle cx="585.25" cy="847.75" r="2.2"/>
<circle cx="586" cy="776.25" r="2.2"/>
<circle cx="588" cy="777.5" r="2.2"/>
<circle cx="587.75" cy="828.5" r="2.2"/>
<circle cx="588.75" cy="840.25" r="2.2"/>
<circle cx="589" cy="814.25" r="2.2"/>
<circle cx="590.75" cy="847.5" r="2.2"/>
<circle cx="594.75" cy="857.5" r="2.2"/>
<circle cx="599.25" cy="750.5" r="2.2"/>
<circle cx="604.75" cy="892.75" r="2.2"/>
<circle cx="606.75" cy="842.25" r="2.2"/>
<circle cx="609" cy="861.5" r="2.2"/>
<circle cx="612.5" cy="757.25" r="2.2"/>
<circle cx="614.25" cy="883.75" r="2.2"/>
<circle cx="614.5" cy="790.5" r="2.2"/>
<circle cx="617.25" cy="770.25" r="2.2"/>
<circle cx="670.25" cy="809.25" r="2.2"/>
<circle cx="670.25" cy="862" r="2.2"/>
<circle cx="672.75" cy="868.5" r="2.2"/>
<circle cx="673" cy="876.25" r="2.2"/>
<circle cx="674.25" cy="805.5" r="2.2"/>
<circle cx="675" cy="846.75" r="2.2"/>
<circle cx="676.25" cy="880.5" r="2.2"/>
<circle cx="676.75" cy="868.25" r="2.2"/>
<circle cx="677" cy="725.75" r="2.2"/>
<circle cx="677.25" cy="737" r="2.2"/>
<circle cx="677.25" cy="838.5" r="2.2"/>
<circle cx="677.5" cy="833.25" r="2.2"/>
<circle cx="679.25" cy="792.25" r="2.2"/>
<circle cx="680" cy="840.5" r="2.2"/>
<circle cx="680.5" cy="784.25" r="2.2"/>
<circle cx="681.25" cy="825" r="2.2"/>
<circle cx="681.5" cy="829" r="2.2"/>
<circle cx="683.75" cy="773" r="2.2"/>
<circle cx="684.25" cy="762.25" r="2.2"/>
<circle cx="685" cy="849.75" r="2.2"/>
<circle cx="686.25" cy="785.5" r="2.2"/>
<circle cx="686.75" cy="891.25" r="2.2"/>
<circle cx="687" cy="741.75" r="2.2"/>
<circle cx="687.25" cy="845" r="2.2"/>
<circle cx="687.5" cy="867.75" r="2.2"/>
<circle cx="689.25" cy="839" r="2.2"/>
<circle cx="690.5" cy="818.5" r="2.2"/>
<circle cx="690.5" cy="883.5" r="2.2"/>
<circle cx="694.25" cy="859.25" r="2.2"/>
<circle cx="694.25" cy="854.5" r="2.2"/>
<circle cx="694.5" cy="882.75" r="2.2"/>
<circle cx="695.25" cy="807" r="2.2"/>
<circle cx="695.25" cy="743.75" r="2.2"/>
<circle cx="696" cy="738.5" r="2.2"/>
<circle cx="697.5" cy="727.25" r="2.2"/>
<circle cx="697.75" cy="768.25" r="2.2"/>
<circle cx="698.5" cy="742.25" r="2.2"/>
<circle cx="699.25" cy="880.75" r="2.2"/>
<circle cx="700" cy="805" r="2.2"/>
<circle cx="700.5" cy="816.5" r="2.2"/>
<circle cx="701.5" cy="834.75" r="2.2"/>
<circle cx="701.5" cy="853.75" r="2.2"/>
<circle cx="702" cy="758.75" r="2.2"/>
<circle cx="702.25" cy="852" r="2.2"/>
<circle cx="702.5" cy="763" r="2.2"/>
<circle cx="703" cy="842" r="2.2"/>
<circle cx="720.25" cy="843.5" r="2.2"/>
<circle cx="722" cy="868.5" r="2.2"/>
<circle cx="735.5" cy="833.5" r="2.2"/>
<circle cx="742" cy="796.5" r="2.2"/>
<circle cx="744.75" cy="805.75" r="2.2"/>
<circle cx="756" cy="733.75" r="2.2"/>
<circle cx="760.5" cy="792.5" r="2.2"/>
<circle cx="764.75" cy="791.75" r="2.2"/>
<circle cx="767.5" cy="773" r="2.2"/>
<circle cx="770.75" cy="722.5" r="2.2"/>
<circle cx="773.5" cy="808.25" r="2.2"/>
<circle cx="774.5" cy="840.25" r="2.2"/>
<circle cx="780" cy="794.5" r="2.2"/>
<circle cx="782" cy="800" r="2.2"/>
<circle cx="783.75" cy="846.75" r="2.2"/>
<circle cx="788.25" cy="791.5" r="2.2"/>
<circle cx="802" cy="750.25" r="2.2"/>
<circle cx="843.5" cy="772.75" r="2.2"/>
<circle cx="849" cy="847.25" r="2.2"/>
<circle cx="859.75" cy="859.5" r="2.2"/>
</g>
<path class="band" d="M514.75 808.65 L523.33 808.05 L531.91 807.43 L540.49 806.81 L549.08 806.16 L557.66 805.5 L566.24 804.82 L574.82 804.11 L583.4 803.38 L591.98 802.61 L600.56 801.8 L609.14 800.94 L617.73 800.03 L626.31 799.05 L634.89 798 L643.47 796.85 L652.05 795.59 L660.63 794.21 L669.21 792.69 L677.79 791.03 L686.38 789.21 L694.96 787.24 L703.54 785.12 L712.12 782.87 L720.7 780.48 L729.28 777.99 L737.86 775.4 L746.44 772.73 L755.02 770 L763.61 767.2 L772.19 764.35 L780.77 761.47 L789.35 758.55 L797.93 755.6 L806.51 752.62 L815.09 749.62 L823.67 746.61 L832.26 743.57 L840.84 740.53 L849.42 737.47 L858 734.4 L858 794.4 L849.42 794.99 L840.84 795.6 L832.26 796.21 L823.67 796.84 L815.09 797.49 L806.51 798.16 L797.93 798.84 L789.35 799.55 L780.77 800.29 L772.19 801.07 L763.61 801.89 L755.02 802.75 L746.44 803.68 L737.86 804.67 L729.28 805.75 L720.7 806.92 L712.12 808.2 L703.54 809.6 L694.96 811.15 L686.38 812.84 L677.79 814.68 L669.21 816.68 L660.63 818.83 L652.05 821.11 L643.47 823.52 L634.89 826.03 L626.31 828.63 L617.73 831.32 L609.14 834.07 L600.56 836.87 L591.98 839.73 L583.4 842.62 L574.82 845.55 L566.24 848.5 L557.66 851.48 L549.08 854.49 L540.49 857.51 L531.91 860.54 L523.33 863.59 L514.75 866.65Z"/>
<line class="fit" x1="514.75" y1="837.65" x2="858" y2="764.4"/>
<path class="axis" d="M481.5 513.45 V910.7 H876.5"/>
<path class="tick" d="M479.3 598.5h2.2M479.3 719h2.2M479.3 839.25h2.2M514.75 910.7v2.5M600.25 910.7v2.5M686.25 910.7v2.5M772 910.7v2.5M858 910.7v2.5"/>
<text class="tl" text-anchor="end" transform="translate(477.9 603.2) scale(1 1.04)">75</text>
<text class="tl" text-anchor="end" transform="translate(477.9 723.7) scale(1 1.04)">50</text>
<text class="tl" text-anchor="end" transform="translate(477.9 843.95) scale(1 1.04)">25</text>
<text class="tl" text-anchor="middle" transform="translate(514.75 924.8) scale(1 1.04)">0</text>
<text class="tl" text-anchor="middle" transform="translate(600.25 924.8) scale(1 1.04)">1</text>
<text class="tl" text-anchor="middle" transform="translate(686.25 924.8) scale(1 1.04)">2</text>
<text class="tl" text-anchor="middle" transform="translate(772 924.8) scale(1 1.04)">3</text>
<text class="tl" text-anchor="middle" transform="translate(858 924.8) scale(1 1.04)">4</text>
<text class="at" text-anchor="end" transform="translate(877.75 936) scale(1 1)">PCFS</text>
<text class="at" text-anchor="end" transform="translate(460.8 513.2) rotate(-90) scale(1 1)">Trail A [seconds]</text>
<text class="pl" transform="translate(449.25 496.1) scale(1 1.04)">F</text>
</g>
<g class="panel" id="panel-G">
<g class="pts">
<circle cx="949.5" cy="656.5" r="2.2"/>
<circle cx="950.25" cy="704.25" r="2.2"/>
<circle cx="956" cy="530.75" r="2.2"/>
<circle cx="1115" cy="694.25" r="2.2"/>
<circle cx="1117.25" cy="628.75" r="2.2"/>
<circle cx="1126.75" cy="698" r="2.2"/>
<circle cx="1127.75" cy="687" r="2.2"/>
<circle cx="1132" cy="708.5" r="2.2"/>
<circle cx="1138.5" cy="695.75" r="2.2"/>
<circle cx="1169.5" cy="680.75" r="2.2"/>
<circle cx="1208.5" cy="701.25" r="2.2"/>
<circle cx="1214.25" cy="702.5" r="2.2"/>
<circle cx="1215.5" cy="711" r="2.2"/>
<circle cx="1276" cy="685.75" r="2.2"/>
<circle cx="958.5" cy="750.75" r="2.2"/>
<circle cx="960.5" cy="807.25" r="2.2"/>
<circle cx="977.75" cy="816.25" r="2.2"/>
<circle cx="978.5" cy="833.75" r="2.2"/>
<circle cx="1028" cy="850.5" r="2.2"/>
<circle cx="1032.75" cy="793.5" r="2.2"/>
<circle cx="1033" cy="768" r="2.2"/>
<circle cx="1033.25" cy="849.25" r="2.2"/>
<circle cx="1038.75" cy="791.75" r="2.2"/>
<circle cx="1039" cy="783.5" r="2.2"/>
<circle cx="1039" cy="843.5" r="2.2"/>
<circle cx="1039.25" cy="744.5" r="2.2"/>
<circle cx="1047.5" cy="863.25" r="2.2"/>
<circle cx="1048.75" cy="867.75" r="2.2"/>
<circle cx="1050" cy="836" r="2.2"/>
<circle cx="1050.75" cy="824.5" r="2.2"/>
<circle cx="1052.5" cy="798.5" r="2.2"/>
<circle cx="1054" cy="743.75" r="2.2"/>
<circle cx="1054.25" cy="832.75" r="2.2"/>
<circle cx="1057.75" cy="804" r="2.2"/>
<circle cx="1059.75" cy="857.25" r="2.2"/>
<circle cx="1060.25" cy="736.5" r="2.2"/>
<circle cx="1060.5" cy="841.5" r="2.2"/>
<circle cx="1110.5" cy="867.75" r="2.2"/>
<circle cx="1111" cy="804.25" r="2.2"/>
<circle cx="1111.5" cy="830.75" r="2.2"/>
<circle cx="1112.5" cy="716.75" r="2.2"/>
<circle cx="1113.75" cy="808.25" r="2.2"/>
<circle cx="1114.25" cy="875" r="2.2"/>
<circle cx="1114.5" cy="866.5" r="2.2"/>
<circle cx="1117.5" cy="830" r="2.2"/>
<circle cx="1119" cy="832.75" r="2.2"/>
<circle cx="1119.25" cy="856.5" r="2.2"/>
<circle cx="1120.25" cy="757.75" r="2.2"/>
<circle cx="1121" cy="817.25" r="2.2"/>
<circle cx="1122" cy="746.75" r="2.2"/>
<circle cx="1122.5" cy="833.5" r="2.2"/>
<circle cx="1123.75" cy="817" r="2.2"/>
<circle cx="1123.75" cy="835.25" r="2.2"/>
<circle cx="1124" cy="841.25" r="2.2"/>
<circle cx="1125.5" cy="835.25" r="2.2"/>
<circle cx="1126" cy="760.25" r="2.2"/>
<circle cx="1127" cy="788.75" r="2.2"/>
<circle cx="1127" cy="834.5" r="2.2"/>
<circle cx="1128" cy="798.5" r="2.2"/>
<circle cx="1130" cy="772" r="2.2"/>
<circle cx="1130.25" cy="732.75" r="2.2"/>
<circle cx="1131" cy="859.75" r="2.2"/>
<circle cx="1132" cy="777.75" r="2.2"/>
<circle cx="1132.25" cy="854.5" r="2.2"/>
<circle cx="1132.75" cy="829" r="2.2"/>
<circle cx="1133" cy="799.75" r="2.2"/>
<circle cx="1133.75" cy="842.75" r="2.2"/>
<circle cx="1134.25" cy="816.5" r="2.2"/>
<circle cx="1134.5" cy="861" r="2.2"/>
<circle cx="1136" cy="892.75" r="2.2"/>
<circle cx="1136" cy="740.75" r="2.2"/>
<circle cx="1138.25" cy="824.75" r="2.2"/>
<circle cx="1138.5" cy="815.5" r="2.2"/>
<circle cx="1140" cy="781.25" r="2.2"/>
<circle cx="1140.75" cy="871.75" r="2.2"/>
<circle cx="1140.75" cy="819.5" r="2.2"/>
<circle cx="1141" cy="833.25" r="2.2"/>
<circle cx="1142.25" cy="806.75" r="2.2"/>
<circle cx="1142.5" cy="810.25" r="2.2"/>
<circle cx="1142.75" cy="723.5" r="2.2"/>
<circle cx="1166" cy="812" r="2.2"/>
<circle cx="1169.25" cy="787.5" r="2.2"/>
<circle cx="1174" cy="842.75" r="2.2"/>
<circle cx="1175" cy="853" r="2.2"/>
<circle cx="1192.75" cy="829.25" r="2.2"/>
<circle cx="1196.25" cy="840.25" r="2.2"/>
<circle cx="1203.25" cy="829.25" r="2.2"/>
<circle cx="1204" cy="817.75" r="2.2"/>
<circle cx="1206.5" cy="783.25" r="2.2"/>
<circle cx="1208" cy="809" r="2.2"/>
<circle cx="1208" cy="765" r="2.2"/>
<circle cx="1218" cy="801.5" r="2.2"/>
<circle cx="1222.25" cy="779.5" r="2.2"/>
<circle cx="1222.75" cy="780.25" r="2.2"/>
<circle cx="1223.25" cy="746.5" r="2.2"/>
<circle cx="1223.75" cy="735.75" r="2.2"/>
<circle cx="1256.75" cy="821.75" r="2.2"/>
<circle cx="1284.5" cy="841" r="2.2"/>
<circle cx="1304" cy="804" r="2.2"/>
</g>
<path class="band" d="M962.5 757.75 L970.7 759.32 L978.9 760.87 L987.1 762.41 L995.3 763.93 L1003.5 765.43 L1011.7 766.9 L1019.9 768.35 L1028.1 769.76 L1036.3 771.14 L1044.5 772.48 L1052.7 773.76 L1060.9 774.97 L1069.1 776.12 L1077.3 777.18 L1085.5 778.13 L1093.7 778.98 L1101.9 779.69 L1110.1 780.26 L1118.3 780.68 L1126.5 780.95 L1134.7 781.07 L1142.9 781.04 L1151.1 780.87 L1159.3 780.59 L1167.5 780.19 L1175.7 779.71 L1183.9 779.15 L1192.1 778.52 L1200.3 777.83 L1208.5 777.1 L1216.7 776.32 L1224.9 775.51 L1233.1 774.67 L1241.3 773.81 L1249.5 772.92 L1257.7 772.01 L1265.9 771.09 L1274.1 770.16 L1282.3 769.21 L1290.5 768.25 L1290.5 831.25 L1282.3 829.67 L1274.1 828.09 L1265.9 826.53 L1257.7 824.99 L1249.5 823.46 L1241.3 821.94 L1233.1 820.45 L1224.9 818.99 L1216.7 817.55 L1208.5 816.15 L1200.3 814.79 L1192.1 813.48 L1183.9 812.23 L1175.7 811.04 L1167.5 809.93 L1159.3 808.91 L1151.1 808 L1142.9 807.21 L1134.7 806.56 L1126.5 806.05 L1118.3 805.69 L1110.1 805.49 L1101.9 805.44 L1093.7 805.52 L1085.5 805.74 L1077.3 806.07 L1069.1 806.51 L1060.9 807.03 L1052.7 807.62 L1044.5 808.27 L1036.3 808.98 L1028.1 809.74 L1019.9 810.53 L1011.7 811.35 L1003.5 812.2 L995.3 813.07 L987.1 813.97 L978.9 814.88 L970.7 815.81 L962.5 816.75Z"/>
<line class="fit" x1="962.5" y1="787.25" x2="1290.5" y2="799.75"/>
<path class="axis" d="M931.7 513.45 V910.7 H1321"/>
<path class="tick" d="M929.5 531.5h2.2M929.5 636.75h2.2M929.5 741.25h2.2M929.5 846h2.2M962.5 910.7v2.5M1044.5 910.7v2.5M1126.5 910.7v2.5M1208.5 910.7v2.5M1290.5 910.7v2.5"/>
<text class="tl" text-anchor="end" letter-spacing="-0.6" transform="translate(926.9 536.2) scale(1 1.04)">160</text>
<text class="tl" text-anchor="end" letter-spacing="-0.6" transform="translate(926.9 641.45) scale(1 1.04)">120</text>
<text class="tl" text-anchor="end" transform="translate(926.9 745.95) scale(1 1.04)">80</text>
<text class="tl" text-anchor="end" transform="translate(926.9 850.7) scale(1 1.04)">40</text>
<text class="tl" text-anchor="middle" transform="translate(962.5 924.8) scale(1 1.04)">0</text>
<text class="tl" text-anchor="middle" transform="translate(1044.5 924.8) scale(1 1.04)">1</text>
<text class="tl" text-anchor="middle" transform="translate(1126.5 924.8) scale(1 1.04)">2</text>
<text class="tl" text-anchor="middle" transform="translate(1208.5 924.8) scale(1 1.04)">3</text>
<text class="tl" text-anchor="middle" transform="translate(1290.5 924.8) scale(1 1.04)">4</text>
<text class="at" text-anchor="end" transform="translate(1322.25 936) scale(1 1)">PCFS</text>
<text class="at" text-anchor="end" transform="translate(903.9 513.2) rotate(-90) scale(1 1)">Trail B [seconds]</text>
<text class="pl" transform="translate(879.55 496.3) scale(1 1.04)">G</text>
</g>
<g class="panel" id="panel-H">
<g class="pts">
<circle cx="1388.5" cy="668.5" r="2.2"/>
<circle cx="1390.75" cy="586.25" r="2.2"/>
<circle cx="1400" cy="706.25" r="2.2"/>
<circle cx="1401" cy="563" r="2.2"/>
<circle cx="1476.25" cy="704.25" r="2.2"/>
<circle cx="1476.75" cy="642.5" r="2.2"/>
<circle cx="1477" cy="684.75" r="2.2"/>
<circle cx="1483.5" cy="700.75" r="2.2"/>
<circle cx="1485.5" cy="684" r="2.2"/>
<circle cx="1485.75" cy="686.5" r="2.2"/>
<circle cx="1487" cy="530.75" r="2.2"/>
<circle cx="1487.5" cy="688.5" r="2.2"/>
<circle cx="1553.5" cy="641" r="2.2"/>
<circle cx="1553" cy="711" r="2.2"/>
<circle cx="1556.5" cy="619" r="2.2"/>
<circle cx="1560" cy="711.5" r="2.2"/>
<circle cx="1561.5" cy="631" r="2.2"/>
<circle cx="1566.5" cy="701.75" r="2.2"/>
<circle cx="1568.5" cy="687.25" r="2.2"/>
<circle cx="1569.25" cy="664" r="2.2"/>
<circle cx="1570" cy="673" r="2.2"/>
<circle cx="1571.5" cy="643" r="2.2"/>
<circle cx="1572" cy="710.25" r="2.2"/>
<circle cx="1572.75" cy="700.75" r="2.2"/>
<circle cx="1573.25" cy="601.75" r="2.2"/>
<circle cx="1573.5" cy="688.75" r="2.2"/>
<circle cx="1574.5" cy="599" r="2.2"/>
<circle cx="1574.5" cy="693.5" r="2.2"/>
<circle cx="1578.25" cy="696.25" r="2.2"/>
<circle cx="1578.5" cy="651.75" r="2.2"/>
<circle cx="1580.5" cy="596.75" r="2.2"/>
<circle cx="1580.75" cy="694.25" r="2.2"/>
<circle cx="1581.75" cy="701.5" r="2.2"/>
<circle cx="1582" cy="695.25" r="2.2"/>
<circle cx="1584.5" cy="608" r="2.2"/>
<circle cx="1612" cy="684" r="2.2"/>
<circle cx="1643.25" cy="656.25" r="2.2"/>
<circle cx="1654.5" cy="639" r="2.2"/>
<circle cx="1664.25" cy="689" r="2.2"/>
<circle cx="1404.25" cy="763" r="2.2"/>
<circle cx="1406.5" cy="774.75" r="2.2"/>
<circle cx="1409.25" cy="795.75" r="2.2"/>
<circle cx="1476.25" cy="826" r="2.2"/>
<circle cx="1481.75" cy="733.75" r="2.2"/>
<circle cx="1485" cy="768" r="2.2"/>
<circle cx="1486" cy="795.25" r="2.2"/>
<circle cx="1487.5" cy="774.75" r="2.2"/>
<circle cx="1490.75" cy="749.5" r="2.2"/>
<circle cx="1492" cy="773" r="2.2"/>
<circle cx="1497" cy="742.5" r="2.2"/>
<circle cx="1497.75" cy="715" r="2.2"/>
<circle cx="1501.5" cy="819.5" r="2.2"/>
<circle cx="1503" cy="892.75" r="2.2"/>
<circle cx="1552.75" cy="784.75" r="2.2"/>
<circle cx="1555.75" cy="829.75" r="2.2"/>
<circle cx="1558.25" cy="723.75" r="2.2"/>
<circle cx="1560" cy="756.25" r="2.2"/>
<circle cx="1560.25" cy="790" r="2.2"/>
<circle cx="1561.25" cy="786" r="2.2"/>
<circle cx="1563" cy="732.5" r="2.2"/>
<circle cx="1563.25" cy="794.25" r="2.2"/>
<circle cx="1565.5" cy="797.5" r="2.2"/>
<circle cx="1567" cy="767.25" r="2.2"/>
<circle cx="1567" cy="807.25" r="2.2"/>
<circle cx="1569.75" cy="803.75" r="2.2"/>
<circle cx="1571.75" cy="766.5" r="2.2"/>
<circle cx="1572.25" cy="778.5" r="2.2"/>
<circle cx="1573.25" cy="829.25" r="2.2"/>
<circle cx="1574.5" cy="728.75" r="2.2"/>
<circle cx="1575" cy="753.5" r="2.2"/>
<circle cx="1576" cy="849.25" r="2.2"/>
<circle cx="1576.25" cy="750" r="2.2"/>
<circle cx="1580.5" cy="848" r="2.2"/>
<circle cx="1582.25" cy="760.75" r="2.2"/>
<circle cx="1582.5" cy="721.75" r="2.2"/>
<circle cx="1582.75" cy="789.75" r="2.2"/>
<circle cx="1583" cy="731.25" r="2.2"/>
<circle cx="1583" cy="795.75" r="2.2"/>
<circle cx="1585" cy="749" r="2.2"/>
<circle cx="1585.25" cy="754.5" r="2.2"/>
<circle cx="1596.75" cy="757" r="2.2"/>
<circle cx="1607" cy="774.75" r="2.2"/>
<circle cx="1607.5" cy="816" r="2.2"/>
<circle cx="1626.75" cy="732.5" r="2.2"/>
<circle cx="1637.75" cy="883.5" r="2.2"/>
<circle cx="1639.5" cy="720.25" r="2.2"/>
<circle cx="1642.75" cy="715.25" r="2.2"/>
<circle cx="1643" cy="840" r="2.2"/>
<circle cx="1643.5" cy="717.5" r="2.2"/>
<circle cx="1649" cy="786.5" r="2.2"/>
<circle cx="1650.25" cy="821.25" r="2.2"/>
<circle cx="1653" cy="821.25" r="2.2"/>
<circle cx="1655.25" cy="798.75" r="2.2"/>
<circle cx="1655.5" cy="804.5" r="2.2"/>
<circle cx="1660" cy="822" r="2.2"/>
<circle cx="1660.25" cy="803.75" r="2.2"/>
<circle cx="1705.75" cy="830.75" r="2.2"/>
<circle cx="1728.75" cy="831.75" r="2.2"/>
<circle cx="1738.75" cy="737.5" r="2.2"/>
<circle cx="1747" cy="738.5" r="2.2"/>
<circle cx="1747.75" cy="755" r="2.2"/>
</g>
<path class="band" d="M1405.25 664 L1413.47 667.33 L1421.69 670.64 L1429.91 673.93 L1438.12 677.21 L1446.34 680.47 L1454.56 683.71 L1462.78 686.91 L1471 690.09 L1479.22 693.22 L1487.44 696.31 L1495.66 699.34 L1503.88 702.3 L1512.09 705.19 L1520.31 707.98 L1528.53 710.65 L1536.75 713.2 L1544.97 715.59 L1553.19 717.81 L1561.41 719.85 L1569.62 721.71 L1577.84 723.37 L1586.06 724.86 L1594.28 726.18 L1602.5 727.36 L1610.72 728.41 L1618.94 729.36 L1627.16 730.22 L1635.38 731 L1643.59 731.72 L1651.81 732.39 L1660.03 733.02 L1668.25 733.6 L1676.47 734.16 L1684.69 734.69 L1692.91 735.2 L1701.12 735.69 L1709.34 736.16 L1717.56 736.62 L1725.78 737.07 L1734 737.5 L1734 807.5 L1725.78 804.16 L1717.56 800.83 L1709.34 797.51 L1701.12 794.21 L1692.91 790.92 L1684.69 787.66 L1676.47 784.41 L1668.25 781.2 L1660.03 778.01 L1651.81 774.86 L1643.59 771.75 L1635.38 768.7 L1627.16 765.71 L1618.94 762.79 L1610.72 759.96 L1602.5 757.24 L1594.28 754.65 L1586.06 752.19 L1577.84 749.91 L1569.62 747.79 L1561.41 745.87 L1553.19 744.14 L1544.97 742.58 L1536.75 741.2 L1528.53 739.97 L1520.31 738.87 L1512.09 737.89 L1503.88 737 L1495.66 736.19 L1487.44 735.44 L1479.22 734.75 L1471 734.11 L1462.78 733.51 L1454.56 732.94 L1446.34 732.4 L1438.12 731.89 L1429.91 731.39 L1421.69 730.91 L1413.47 730.45 L1405.25 730Z"/>
<line class="fit" x1="1405.25" y1="697" x2="1734" y2="772.5"/>
<path class="axis" d="M1370.55 513.45 V910.7 H1765"/>
<path class="tick" d="M1368.35 566h2.2M1368.35 676h2.2M1368.35 786h2.2M1368.35 896.25h2.2M1404.5 910.7v2.5M1486.75 910.7v2.5M1569.25 910.7v2.5M1651.75 910.7v2.5M1734 910.7v2.5"/>
<text class="tl" text-anchor="end" transform="translate(1366.95 570.7) scale(1 1.04)">40</text>
<text class="tl" text-anchor="end" transform="translate(1366.95 680.7) scale(1 1.04)">30</text>
<text class="tl" text-anchor="end" transform="translate(1366.95 790.7) scale(1 1.04)">20</text>
<text class="tl" text-anchor="end" transform="translate(1366.95 900.95) scale(1 1.04)">10</text>
<text class="tl" text-anchor="middle" transform="translate(1404.5 924.8) scale(1 1.04)">0</text>
<text class="tl" text-anchor="middle" transform="translate(1486.75 924.8) scale(1 1.04)">1</text>
<text class="tl" text-anchor="middle" transform="translate(1569.25 924.8) scale(1 1.04)">2</text>
<text class="tl" text-anchor="middle" transform="translate(1651.75 924.8) scale(1 1.04)">3</text>
<text class="tl" text-anchor="middle" transform="translate(1734 924.8) scale(1 1.04)">4</text>
<text class="at" text-anchor="end" transform="translate(1766.25 936) scale(1 1)">PCFS</text>
<text class="at" text-anchor="end" transform="translate(1349.8 513.2) rotate(-90) scale(1 1)">number of words</text>
<text class="pl" transform="translate(1320.2 496.1) scale(1 1.04)">H</text>
</g>
</g>
</svg>
</body>
</html>
